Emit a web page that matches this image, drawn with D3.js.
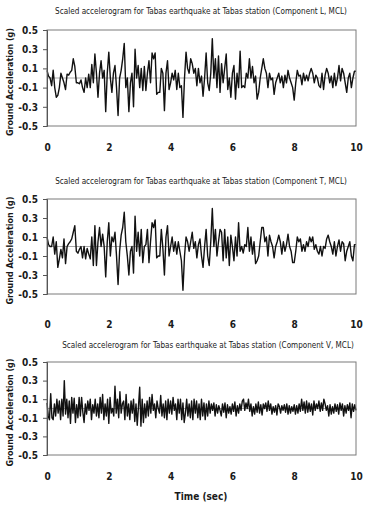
<!DOCTYPE html>
<html>
<head>
<meta charset="utf-8">
<script src="https://cdn.jsdelivr.net/npm/d3@7"></script>
<style>
  body { margin: 0; background: #fff; }
  text { fill: #1a1a1a; }
</style>
</head>
<body>
<div id="chart"></div>
<script>
// component titles
const titles = [
    "Scaled accelerogram for Tabas earthquake at Tabas station (Component L, MCL)",
    "Scaled accelerogram for Tabas earthquake at Tabas station (Component T, MCL)",
    "Scaled accelerogram for Tabas earthquake at Tabas station (Component V, MCL)"
];

const yTicks = [-0.5, -0.3, -0.1, 0.1, 0.3, 0.5];
const xTicks = [0, 2, 4, 6, 8, 10];

// ground acceleration (g), component L, step 0.05 s
const dtL = 0.05;
const accL = [
    0.08, 0.02, 0.0, -0.08, 0.08, -0.1, -0.2, -0.18, -0.1, 0.05, 0.0, -0.05, -0.12, 0.04, 0.03, 0.06, 0.08, 0.2, 0.12, -0.05,
    -0.05, -0.06, -0.02, -0.1, -0.15, 0.0, -0.1, 0.04, -0.1, 0.14, -0.05, 0.25, 0.05, -0.2, 0.05, 0.18, 0.0, 0.08, -0.35, 0.05,
    0.27, 0.0, -0.15, 0.05, 0.13, -0.1, -0.39, 0.0, 0.08, 0.2, 0.36, -0.1, 0.0, -0.35, -0.05, 0.05, -0.3, 0.3, 0.0, 0.13,
    -0.1, 0.1, -0.13, 0.12, -0.13, 0.05, 0.18, -0.05, 0.26, 0.2, 0.26, -0.17, -0.15, -0.15, 0.1, 0.05, -0.34, 0.05, 0.18, -0.12,
    -0.05, 0.05, -0.02, 0.08, -0.12, 0.05, -0.1, -0.08, -0.41, 0.0, 0.27, 0.1, 0.05, 0.2, 0.15, 0.05, 0.1, -0.08, 0.1, -0.05,
    0.02, -0.19, 0.0, 0.26, -0.05, -0.13, 0.05, 0.41, 0.0, 0.2, -0.1, 0.23, -0.15, 0.15, -0.05, 0.1, 0.25, -0.12, 0.0, -0.2,
    0.05, 0.13, -0.22, 0.05, -0.1, 0.28, -0.1, -0.08, -0.1, 0.05, 0.0, 0.2, 0.0, 0.12, -0.05, 0.02, -0.22, -0.15, 0.0, 0.1,
    0.2, 0.1, 0.05, -0.1, 0.05, -0.02, 0.0, -0.17, -0.05, 0.0, 0.05, -0.05, 0.02, -0.1, 0.03, -0.05, 0.08, 0.0, -0.05, -0.1,
    -0.23, -0.05, 0.08, 0.02, 0.03, -0.07, 0.05, -0.03, 0.03, -0.03, 0.05, 0.1, 0.05, -0.05, 0.03, 0.0, -0.08, -0.1, 0.05, -0.12,
    0.03, 0.1, 0.05, -0.05, 0.02, -0.1, 0.05, -0.08, 0.0, 0.13, -0.03, 0.1, 0.05, -0.05, -0.15, 0.0, 0.05, -0.1, 0.0, 0.07,
    0.07
];

// component T, step 0.05 s
const dtT = 0.05;
const accT = [
    0.1, 0.02, 0.0, 0.0, 0.1, -0.08, 0.05, -0.22, -0.13, -0.03, -0.12, 0.08, -0.18, 0.0, 0.03, 0.05, 0.08, 0.15, 0.22, -0.05,
    -0.07, -0.03, 0.0, -0.12, 0.0, -0.13, -0.02, -0.08, -0.13, 0.1, -0.2, 0.22, -0.2, 0.05, 0.2, 0.0, 0.13, 0.0, -0.32, 0.05,
    0.25, -0.1, 0.1, 0.05, 0.15, -0.1, -0.4, -0.05, 0.12, 0.2, 0.36, 0.05, -0.1, -0.3, -0.05, 0.0, -0.28, 0.32, -0.05, 0.15,
    -0.1, 0.18, -0.17, 0.0, 0.02, 0.18, -0.17, 0.05, 0.25, 0.2, 0.28, -0.12, -0.1, -0.1, 0.18, -0.02, -0.3, 0.1, 0.22, -0.1,
    0.0, 0.1, -0.05, 0.05, -0.08, 0.05, -0.05, -0.15, -0.46, -0.1, 0.1, 0.05, -0.05, 0.05, 0.15, -0.02, 0.05, -0.12, 0.02, 0.08,
    -0.1, -0.22, 0.0, 0.18, -0.1, -0.2, 0.05, 0.4, 0.0, 0.18, -0.1, 0.05, 0.18, 0.15, -0.15, 0.18, -0.12, 0.1, -0.2, 0.12,
    0.0, -0.15, 0.1, -0.1, 0.25, -0.05, 0.0, -0.07, 0.02, 0.0, 0.2, -0.05, 0.1, -0.08, 0.05, -0.18, -0.15, -0.1, 0.05, 0.2,
    0.2, 0.05, 0.1, -0.1, 0.12, 0.05, 0.0, -0.12, 0.0, 0.05, 0.12, 0.05, -0.08, 0.05, -0.05, 0.02, 0.13, 0.0, -0.05, -0.17,
    -0.17, -0.05, 0.1, 0.05, 0.08, -0.05, 0.02, -0.05, 0.05, 0.0, 0.1, 0.05, 0.1, -0.03, 0.02, -0.05, -0.08, 0.0, -0.1, 0.0,
    -0.02, 0.08, 0.12, 0.05, 0.0, -0.08, 0.05, -0.1, 0.0, 0.07, -0.05, 0.05, 0.03, -0.15, -0.05, 0.0, 0.05, -0.1, -0.15, 0.02,
    0.02
];

// component V, step 0.04 s
const dtV = 0.04;
const accV = [
    0.06, -0.08, -0.12, 0.16, -0.1, -0.12, 0.05, -0.08, 0.1, -0.05, 0.08, -0.12, 0.1, -0.08, 0.3, -0.06, 0.1, -0.1, 0.08, -0.16, 0.12, -0.05, 0.11, -0.15, 0.04,
    -0.1, 0.12, -0.08, 0.12, -0.04, -0.15, 0.05, -0.06, 0.08, -0.02, 0.1, -0.12, 0.04, -0.05, 0.1, -0.08, 0.05, -0.1, 0.12, -0.05, 0.15, -0.12, 0.05, -0.08, 0.1,
    -0.16, 0.12, -0.05, 0.0, -0.08, 0.24, -0.05, 0.1, -0.1, 0.18, -0.05, 0.05, 0.08, -0.12, 0.15, -0.08, 0.05, -0.12, 0.08, -0.05, 0.1, -0.14, 0.05, -0.18, 0.02,
    0.23, -0.19, 0.1, -0.15, 0.05, -0.1, 0.08, -0.08, 0.12, -0.05, 0.15, -0.02, 0.05, -0.1, 0.08, 0.0, -0.05, 0.14, -0.08, 0.05, -0.1, 0.08, -0.12, 0.1, -0.05,
    0.08, -0.06, 0.12, -0.02, 0.05, -0.12, 0.1, -0.05, 0.1, -0.12, 0.06, -0.15, -0.05, 0.1, -0.08, 0.05, -0.1, 0.08, -0.12, 0.1, -0.05, 0.08, -0.1, 0.05, -0.12,
    0.1, -0.08, 0.06, -0.12, 0.05, -0.08, 0.08, -0.05, 0.05, -0.02, 0.06, -0.08, 0.04, -0.05, 0.03, -0.02, -0.08, 0.05, -0.04, 0.06, -0.1, 0.04, -0.05, 0.02, -0.06,
    0.05, -0.03, 0.07, -0.08, 0.03, -0.05, 0.05, -0.02, 0.08, 0.1, -0.02, 0.06, 0.0, 0.1, -0.03, 0.05, -0.08, 0.02, -0.06, 0.05, -0.04, 0.07, -0.05, 0.04, -0.07,
    0.05, 0.0, 0.06, -0.03, 0.08, -0.02, 0.05, -0.06, 0.02, -0.04, 0.03, -0.07, 0.05, 0.02, -0.05, 0.03, -0.02, 0.04, -0.04, 0.05, -0.06, 0.03, -0.05, 0.02, -0.03,
    0.04, -0.06, 0.03, -0.05, 0.05, -0.03, 0.1, -0.02, 0.07, -0.05, 0.08, -0.04, 0.06, -0.03, 0.05, -0.07, 0.08, -0.02, 0.05, 0.0, 0.08, -0.03, 0.06, -0.02, 0.1,
    0.05, -0.02, 0.03, -0.08, 0.04, -0.06, 0.02, -0.05, 0.05, -0.03, 0.04, -0.06, 0.06, -0.02, 0.05, -0.08, 0.03, -0.05, 0.04, -0.02, 0.06, -0.1, 0.05, -0.03, 0.04,
    -0.02
];

const W = 366, H = 506;
const left = 47, right = 356;
const font = "'DejaVu Sans Condensed', 'Liberation Sans', sans-serif";

const panels = [
    {title: titles[0], acc: accL, dt: dtL, top: 30, bottom: 126, titleX: 201, titleY: 14, tickY: 150},
    {title: titles[1], acc: accT, dt: dtT, top: 199, bottom: 294, titleX: 201, titleY: 184, tickY: 327},
    {title: titles[2], acc: accV, dt: dtV, top: 362, bottom: 455, titleX: 208, titleY: 348, tickY: 479}
];

const svg = d3.select("#chart").append("svg")
    .attr("width", W)
    .attr("height", H)
    .style("font-family", font);

const x = d3.scaleLinear().domain([0, 10]).range([left, right]);

// shrink a text's font size until it fits the given width
function fitText(sel, width, size) {
    const n = sel.node().getComputedTextLength();
    if (n > width) sel.attr("font-size", (size * width / n).toFixed(2));
}

panels.forEach(function (p) {
    const y = d3.scaleLinear().domain([-0.5, 0.5]).range([p.bottom, p.top]);
    const g = svg.append("g");

    // title
    const t = g.append("text")
        .attr("x", p.titleX)
        .attr("y", p.titleY)
        .attr("text-anchor", "middle")
        .attr("font-size", 10)
        .text(p.title);
    fitText(t, 292, 10);

    // zero line
    g.append("line")
        .attr("x1", left).attr("x2", right)
        .attr("y1", y(0)).attr("y2", y(0))
        .attr("stroke", "#a8a8a8")
        .attr("stroke-width", 1);

    // record
    const line = d3.line()
        .x((d, i) => x(i * p.dt))
        .y(d => y(d));
    g.append("path")
        .datum(p.acc)
        .attr("d", line)
        .attr("fill", "none")
        .attr("stroke", "#111")
        .attr("stroke-width", 1.4)
        .attr("stroke-linejoin", "round");

    // frame
    g.append("rect")
        .attr("x", left).attr("y", p.top)
        .attr("width", right - left).attr("height", p.bottom - p.top)
        .attr("fill", "none")
        .attr("stroke", "#7a7a7a")
        .attr("stroke-width", 1);

    // y axis
    const yAxis = d3.axisLeft(y)
        .tickValues(yTicks)
        .tickSize(4)
        .tickFormat(d => d.toFixed(1));
    const ya = g.append("g")
        .attr("transform", "translate(" + left + ",0)")
        .call(yAxis);
    ya.select(".domain").attr("stroke", "#555");
    ya.selectAll(".tick line").attr("stroke", "#555");
    ya.selectAll("text")
        .attr("font-size", 10)
        .attr("font-weight", "bold")
        .attr("font-family", font)
        .attr("fill", "#222")
        .attr("x", -9);

    // x labels
    const xAxis = d3.axisBottom(x)
        .tickValues(xTicks)
        .tickSize(0)
        .tickFormat(d3.format("d"));
    const xa = g.append("g")
        .attr("transform", "translate(0," + (p.tickY - 9) + ")")
        .call(xAxis);
    xa.select(".domain").remove();
    xa.selectAll("text")
        .attr("font-size", 10)
        .attr("font-weight", "bold")
        .attr("font-family", font)
        .attr("fill", "#222");

    // y title
    const yt = g.append("text")
        .attr("transform", "translate(13," + ((p.top + p.bottom) / 2 + 4) + ") rotate(-90)")
        .attr("text-anchor", "middle")
        .attr("font-size", 10)
        .attr("font-weight", "bold")
        .text("Ground Acceleration (g)");
    fitText(yt, 108, 10);
});

svg.append("text")
    .attr("x", 201)
    .attr("y", 500)
    .attr("text-anchor", "middle")
    .attr("font-size", 10)
    .attr("font-weight", "bold")
    .text("Time (sec)");
</script>
</body>
</html>
